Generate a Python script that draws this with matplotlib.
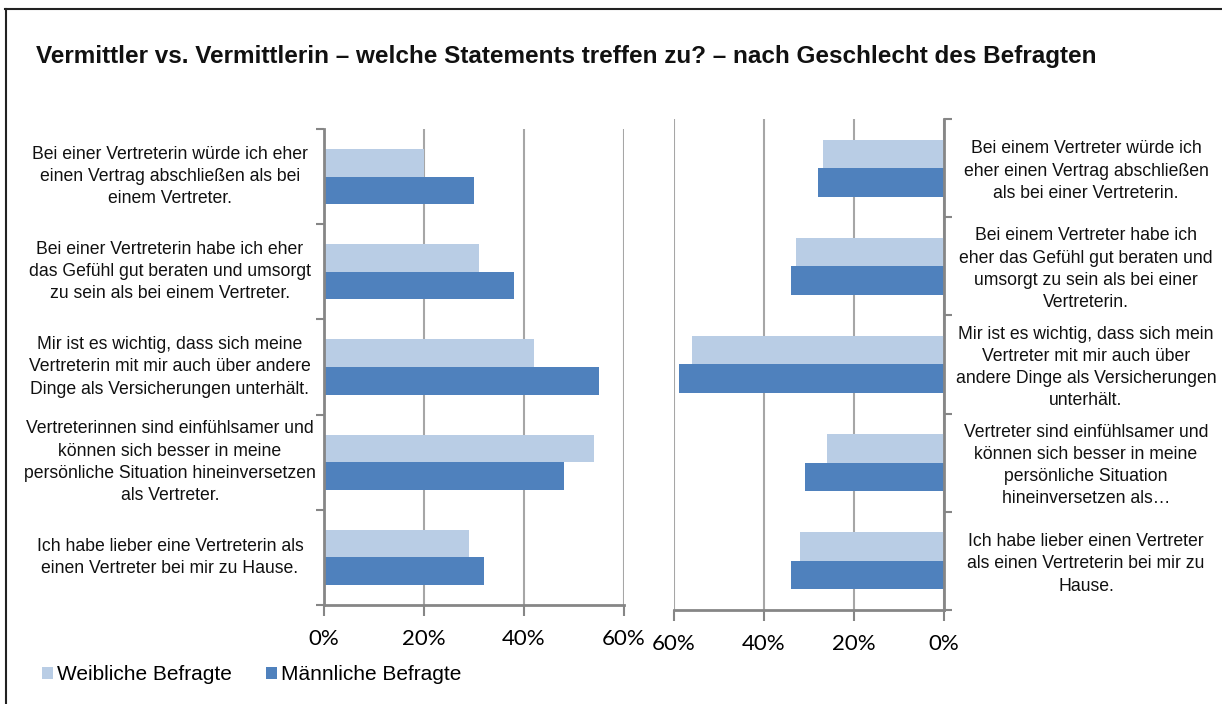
"""Vermittler vs. Vermittlerin - paired horizontal bar chart."""

import matplotlib

matplotlib.use("Agg")
import matplotlib.pyplot as plt
from matplotlib.lines import Line2D
from matplotlib.ticker import FuncFormatter

# ---- data -------------------------------------------------------------
labels_left = [
    "Bei einer Vertreterin würde ich eher\neinen Vertrag abschließen als bei\neinem Vertreter.",
    "Bei einer Vertreterin habe ich eher\ndas Gefühl gut beraten und umsorgt\nzu sein als bei einem Vertreter.",
    "Mir ist es wichtig, dass sich meine\nVertreterin mit mir auch über andere\nDinge als Versicherungen unterhält.",
    "Vertreterinnen sind einfühlsamer und\nkönnen sich besser in meine\npersönliche Situation hineinversetzen\nals Vertreter.",
    "Ich habe lieber eine Vertreterin als\neinen Vertreter bei mir zu Hause.",
]
labels_right = [
    "Bei einem Vertreter würde ich\neher einen Vertrag abschließen\nals bei einer Vertreterin.",
    "Bei einem Vertreter habe ich\neher das Gefühl gut beraten und\numsorgt zu sein als bei einer\nVertreterin.",
    "Mir ist es wichtig, dass sich mein\nVertreter mit mir auch über\nandere Dinge als Versicherungen\nunterhält.",
    "Vertreter sind einfühlsamer und\nkönnen sich besser in meine\npersönliche Situation\nhineinversetzen als…",
    "Ich habe lieber einen Vertreter\nals einen Vertreterin bei mir zu\nHause.",
]
left_female = [20, 31, 42, 54, 29]
left_male = [30, 38, 55, 48, 32]
right_female = [27, 33, 56, 26, 32]
right_male = [28, 34, 59, 31, 34]
series_names = ["Weibliche Befragte", "Männliche Befragte"]
x_ticks = [0, 20, 40, 60]

LIGHT = "#B9CDE5"
DARK = "#4F81BD"
SPINE = "#868686"
GRID = "#A6A6A6"
W, H = 1222, 704

plt.rcParams["font.family"] = ["Liberation Sans", "DejaVu Sans"]

fig = plt.figure(figsize=(W / 100, H / 100), dpi=100)
fig.patch.set_facecolor("white")


def px_axes(x0, y0, x1, y1):
    return fig.add_axes([x0 / W, 1 - y1 / H, (x1 - x0) / W, (y1 - y0) / H])


ax_l = px_axes(324, 129, 624, 605)
ax_r = px_axes(674, 119, 944, 610)

bar_h = 0.29
pos = list(range(len(labels_left)))


def style(ax, side):
    ax.set_ylim(len(pos) - 0.5, -0.5)
    ax.set_yticks([p - 0.5 for p in pos] + [len(pos) - 0.5])
    ax.set_yticklabels([])
    ax.set_xticks(x_ticks)
    ax.xaxis.set_major_formatter(FuncFormatter(lambda v, _: f"{v:.0f}%"))
    for s in ax.spines.values():
        s.set_visible(False)
    ax.spines["bottom"].set_visible(True)
    ax.spines[side].set_visible(True)
    for s in ("bottom", side):
        ax.spines[s].set_color(SPINE)
        ax.spines[s].set_linewidth(2)
    ax.tick_params(axis="x", length=8, width=1.5, color=SPINE, pad=9)
    ax.tick_params(axis="y", length=6, width=1.5, color=SPINE)
    if side == "right":
        ax.yaxis.tick_right()
    for lbl in ax.get_xticklabels():
        lbl.set_fontfamily("Lato")
        lbl.set_fontsize(16)
    ax.grid(axis="x", color=GRID, linewidth=1.5)
    ax.set_axisbelow(True)


ax_l.barh([p - bar_h / 2 for p in pos], left_female, height=bar_h, color=LIGHT, label=series_names[0])
ax_l.barh([p + bar_h / 2 for p in pos], left_male, height=bar_h, color=DARK, label=series_names[1])
ax_l.set_xlim(0, 60)
style(ax_l, "left")

ax_r.barh([p - bar_h / 2 for p in pos], right_female, height=bar_h, color=LIGHT)
ax_r.barh([p + bar_h / 2 for p in pos], right_male, height=bar_h, color=DARK)
ax_r.set_xlim(60, 0)
style(ax_r, "right")

for p, txt in zip(pos, labels_left):
    ax_l.text((170 - 324) / 300, p, txt, transform=ax_l.get_yaxis_transform(),
              ha="center", va="center", fontsize=12.7, linespacing=1.4, color="#111111")
for p, txt in zip(pos, labels_right):
    ax_r.text((1086 - 674) / 270, p + 0.03, txt, transform=ax_r.get_yaxis_transform(),
              ha="center", va="center", fontsize=12.7, linespacing=1.4, color="#111111")

fig.text(36 / W, 1 - 57 / H, "Vermittler vs. Vermittlerin – welche Statements treffen zu? – nach Geschlecht des Befragten",
         ha="left", va="center", fontsize=17.5, fontweight="bold", color="#111111")

handles, names = ax_l.get_legend_handles_labels()
fig.legend(handles, names, loc="center left", bbox_to_anchor=(42 / W, 1 - 675 / H),
           ncol=2, frameon=False, fontsize=15, handlelength=0.53, handleheight=0.53,
           handletextpad=0.2, columnspacing=1.63, borderpad=0, borderaxespad=0)

# outer frame (top and left edges only, the rest is cut off)
fig.add_artist(Line2D([5 / W, 1], [1 - 9 / H, 1 - 9 / H], color="#222222", linewidth=1.5))
fig.add_artist(Line2D([6 / W, 6 / W], [0, 1 - 9 / H], color="#222222", linewidth=1.5))

fig.savefig("out.png", dpi=100)
plt.close(fig)
